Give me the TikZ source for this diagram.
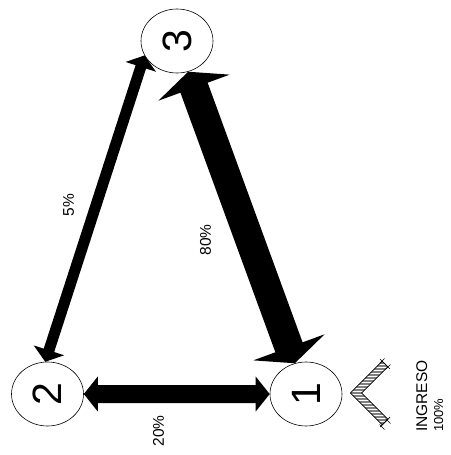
\documentclass[tikz,border=0pt]{standalone}
\usepackage{fontspec}
\usepackage{graphicx}
\setmainfont{Liberation Sans}
\usetikzlibrary{shapes.geometric,calc,patterns}
\newcommand\biarrow[5]{%
  \coordinate (ta) at (#1);
  \coordinate (tb) at (#2);
  \coordinate (pa) at ($(ta)!#5!(tb)$);
  \coordinate (pb) at ($(tb)!#5!(ta)$);
  \fill (ta) -- ($(pa)!#4!90:(tb)$) -- ($(pa)!#3!90:(tb)$)
    -- ($(pb)!#3!-90:(ta)$) -- ($(pb)!#4!-90:(ta)$) -- (tb)
    -- ($(pb)!#4!90:(ta)$) -- ($(pb)!#3!90:(ta)$)
    -- ($(pa)!#3!-90:(tb)$) -- ($(pa)!#4!-90:(tb)$) -- cycle;}
\tikzset{
  circ/.style={ellipse, draw, line width=0.6pt, minimum width=72pt, minimum height=64pt,
    inner sep=0pt, font=\fontsize{41}{41}\selectfont},
  lab/.style={rotate=90, inner sep=0pt, font=\fontsize{15.5}{18}\selectfont},
}
\begin{document}
\begin{tikzpicture}[x=1pt, y=-1pt]
\useasboundingbox (0,0) rectangle (450,455);
\node[circ] (n3) at (177,41) {\rotatebox{90}{3}};
\node[circ] (n2) at (47.5,394) {\rotatebox{90}{2}};
\node[circ] (n1) at (306,394) {\rotatebox{90}{1}};
\biarrow{n2.east}{n1.west}{9pt}{17.5pt}{14pt}
\biarrow{n3.290}{n1.110}{14.5pt}{38pt}{17pt}
\biarrow{n3.204}{n2.94}{5.5pt}{16pt}{12pt}
\node[lab] (l5) at (68.5,205) {5\%};
\node[lab] (l80) at (205.5,240) {80\%};
\node[lab] (l20) at (158.5,431) {20\%};
\node[lab, anchor=base west, font=\fontsize{15.5}{18}\selectfont] (ing) at (427,432) {INGRESO};
\node[lab, anchor=base west, font=\fontsize{13}{15}\selectfont] (pct) at (443,432) {100\%};
% ingress chevron
\def\chev{(382.2,361.2) -- (350.34,393) -- (382.2,424.8) -- (387.8,419.2) -- (361.66,393) -- (387.8,366.8) -- cycle}
\fill[gray] \chev;
\fill[pattern=horizontal lines, pattern color=white] \chev;
\draw[line width=0.7pt] \chev;
\draw[line width=0.7pt] (380.05,359.05) -- (389.95,368.95);
\draw[line width=0.7pt] (380.05,426.95) -- (389.95,417.05);
\draw[line width=0.6pt] (379.5,363.5) -- (384.5,358.5) (385.5,369.5) -- (390.5,364.5);
\draw[line width=0.6pt] (379.5,424.5) -- (384.5,429.5) (385.5,418.5) -- (390.5,423.5);
\end{tikzpicture}
\end{document}
